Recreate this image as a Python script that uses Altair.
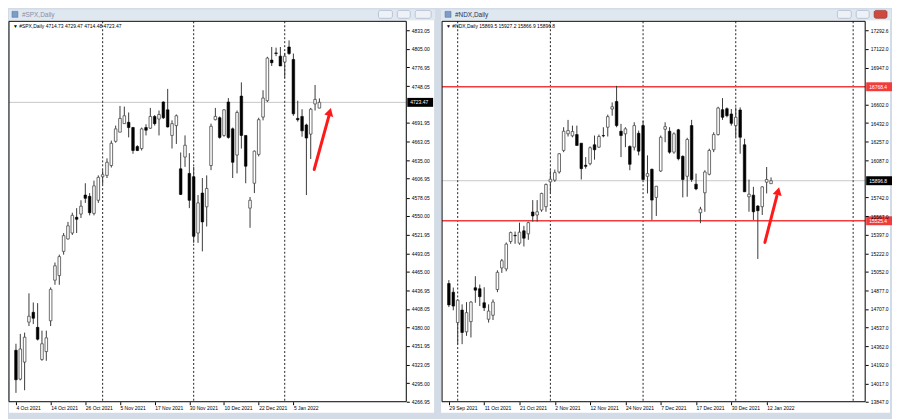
import json
import altair as alt
import pandas as pd

FONT = "Liberation Sans"
BG = "#d3dce6"

# ---------------- #SPX,Daily ----------------
spx_open = [4345, 4301, 4327, 4388, 4403, 4380, 4331, 4343, 4390, 4452,
            4459, 4496, 4515, 4524, 4548, 4553, 4582, 4580, 4554, 4574,
            4610, 4612, 4627, 4664, 4678, 4691, 4693, 4685, 4656, 4653,
            4685, 4684, 4702, 4698, 4724, 4712, 4673, 4688, 4622, 4640,
            4615, 4610, 4524, 4585, 4564, 4627, 4697, 4700, 4673, 4724,
            4683, 4643, 4733, 4673, 4562, 4600, 4644, 4701, 4726, 4788,
            4799, 4794, 4785, 4808, 4789, 4699, 4702, 4689, 4675, 4721,
            4714.73]
spx_high = [4355, 4370, 4372, 4432, 4418, 4417, 4375, 4375, 4441, 4479,
            4491, 4524, 4541, 4555, 4562, 4574, 4600, 4585, 4604, 4612,
            4620, 4638, 4665, 4688, 4718, 4717, 4708, 4686, 4658, 4685,
            4690, 4715, 4704, 4711, 4725, 4744, 4696, 4705, 4647, 4673,
            4646, 4625, 4582, 4608, 4612, 4691, 4715, 4702, 4713, 4730,
            4685, 4711, 4754, 4673, 4579, 4650, 4700, 4742, 4793, 4808,
            4807, 4808, 4799, 4818, 4798, 4726, 4713, 4691, 4715, 4750,
            4729.47]
spx_low = [4280, 4299, 4284, 4382, 4385, 4360, 4329, 4329, 4382, 4445,
           4445, 4491, 4514, 4521, 4524, 4547, 4570, 4551, 4551, 4570,
           4598, 4608, 4624, 4662, 4678, 4691, 4670, 4645, 4649, 4650,
           4673, 4683, 4688, 4673, 4698, 4685, 4653, 4660, 4582, 4625,
           4562, 4509, 4509, 4496, 4534, 4620, 4696, 4668, 4671, 4668,
           4608, 4615, 4653, 4600, 4532, 4585, 4641, 4696, 4724, 4779,
           4794, 4779, 4761, 4796, 4703, 4694, 4671, 4582, 4637, 4711,
           4714.48]
spx_close = [4300, 4347, 4365, 4397, 4394, 4362, 4355, 4364, 4438, 4474,
             4488, 4520, 4535, 4551, 4545, 4565, 4577, 4555, 4596, 4609,
             4613, 4632, 4661, 4683, 4699, 4703, 4685, 4650, 4650, 4683,
             4681, 4702, 4691, 4705, 4700, 4686, 4691, 4703, 4583, 4658,
             4574, 4519, 4570, 4541, 4592, 4687, 4702, 4670, 4712, 4670,
             4632, 4708, 4673, 4626, 4574, 4649, 4697, 4730, 4791, 4784,
             4798, 4779, 4794, 4798, 4706, 4697, 4680, 4669, 4713, 4728,
             4723.47]
spx_ticks = [4833.05, 4805.00, 4776.95, 4748.05, 4691.95, 4663.05, 4635.00,
             4606.95, 4578.05, 4550.00, 4521.95, 4493.05, 4465.00, 4436.95,
             4408.05, 4380.00, 4351.95, 4323.05, 4295.00, 4266.95]
spx_date_pos = [0, 8, 16, 24, 32, 40, 48, 56, 64]
spx_date_labels = ["4 Oct 2021", "14 Oct 2021", "26 Oct 2021", "5 Nov 2021",
                   "17 Nov 2021", "30 Nov 2021", "10 Dec 2021", "22 Dec 2021",
                   "5 Jan 2022"]
spx_separators = [20, 41, 62]
spx_last = 4723.47
spx_levels = []
spx_info = "\u25bc #SPX,Daily  4714.73 4729.47 4714.48 4723.47"
spx_arrow_x = [68.8, 72.2]
spx_arrow_y = [4621, 4703]
spx_head = [72.4, 4709]

# ---------------- #NDX,Daily ----------------
ndx_open = [14943, 14863, 14581, 14697, 14495, 14590, 14904, 14895, 14765, 14612,
            14649, 14888, 15088, 15079, 15333, 15390, 15318, 15432, 15404, 15607,
            15579, 15625, 15656, 15886, 15902, 15978, 16178, 16332, 16313, 16325,
            16245, 16040, 16055, 16230, 16208, 16316, 16393, 16562, 16632, 16356,
            16332, 16215, 16208, 16337, 16408, 15938, 16003, 15742, 15987, 16374,
            16356, 16162, 16369, 16123, 15938, 16408, 15865, 15600, 15785, 15957,
            16184, 16325, 16556, 16565, 16516, 16408, 16553, 16230, 15748, 15763,
            15662, 15656, 15883, 15869.5]
ndx_high = [14975, 14906, 14796, 14750, 14771, 14780, 15011, 14934, 14909, 14750,
            14796, 15066, 15171, 15324, 15425, 15425, 15508, 15478, 15517, 15717,
            15717, 15785, 15871, 15994, 16000, 16153, 16393, 16461, 16408, 16408,
            16245, 16116, 16215, 16316, 16325, 16393, 16510, 16623, 16777, 16424,
            16393, 16224, 16439, 16362, 16454, 16132, 16009, 15846, 16316, 16439,
            16393, 16346, 16378, 16132, 16295, 16461, 15963, 15655, 15994, 16194,
            16346, 16583, 16663, 16577, 16562, 16577, 16577, 16286, 15908, 15840,
            15671, 15846, 16024, 15927.2]
ndx_low = [14725, 14695, 14381, 14381, 14458, 14443, 14765, 14734, 14688, 14581,
           14605, 14863, 15042, 15057, 15312, 15312, 15303, 15287, 15349, 15517,
           15517, 15609, 15609, 15779, 15886, 15963, 16162, 16307, 16300, 16224,
           15908, 16009, 16040, 16092, 16203, 16300, 16307, 16500, 16393, 16116,
           16208, 15994, 16178, 16132, 15901, 15779, 15533, 15570, 15978, 16254,
           16147, 16147, 16086, 15742, 15748, 15886, 15809, 15503, 15609, 15947,
           16162, 16316, 16461, 16485, 16408, 16300, 16147, 15794, 15609, 15533,
           15171, 15579, 15779, 15866.9]
ndx_close = [14745, 14734, 14789, 14489, 14673, 14771, 14882, 14821, 14719, 14688,
             14771, 15047, 15155, 15309, 15416, 15386, 15420, 15364, 15508, 15570,
             15609, 15779, 15862, 15911, 15972, 16147, 16356, 16362, 16353, 16224,
             16009, 16030, 16203, 16184, 16307, 16313, 16491, 16583, 16408, 16316,
             16378, 16049, 16408, 16171, 15908, 15963, 15717, 15846, 16300, 16399,
             16162, 16332, 16101, 15908, 16279, 15908, 15821, 15634, 15978, 16178,
             16325, 16571, 16485, 16500, 16429, 16485, 16300, 15794, 15772, 15609,
             15619, 15840, 15908, 15896.8]
ndx_ticks = [17292.6, 17122.0, 16947.0, 16602.0, 16432.0, 16257.0, 16087.0,
             15742.0, 15567.0, 15397.0, 15222.0, 15052.0, 14877.0, 14707.0,
             14537.0, 14362.0, 14192.0, 14017.0, 13847.0]
ndx_date_pos = [0, 8, 16, 24, 32, 40, 48, 56, 64, 72]
ndx_date_labels = ["29 Sep 2021", "11 Oct 2021", "21 Oct 2021", "2 Nov 2021",
                   "12 Nov 2021", "24 Nov 2021", "7 Dec 2021", "17 Dec 2021",
                   "30 Dec 2021", "12 Jan 2022"]
ndx_separators = [2, 23, 44, 65, 91.6]
ndx_last = 15896.8
ndx_levels = [16768.4, 15525.4]
ndx_info = "\u25bc #NDX,Daily  15869.5 15927.2 15866.9 15896.8"
ndx_arrow_x = [71.6, 74.3]
ndx_arrow_y = [15324, 15754]
ndx_head = [74.6, 15800]


def panel(opens, highs, lows, closes, x_domain, y_domain, width, height,
          ticks, tick_fmt, date_pos, date_labels, separators, last_price,
          levels, arrow_x, arrow_y, head, head_angle, info, title, active,
          left_extra, right_extra):
    n = len(opens)
    df = pd.DataFrame({"i": list(range(n)), "o": opens, "h": highs,
                       "l": lows, "c": closes})
    xs = alt.Scale(domain=x_domain, nice=False, zero=False)
    ys = alt.Scale(domain=y_domain, nice=False, zero=False)
    label_expr = "%s[indexof(%s, datum.value)]" % (json.dumps(date_labels),
                                                   json.dumps(date_pos))
    xaxis = alt.Axis(values=date_pos, labelExpr=label_expr, grid=False,
                     domain=False, tickSize=3, tickColor="#000",
                     labelFontSize=5, labelFont=FONT, labelColor="#000",
                     labelAlign="left", labelBaseline="top", labelPadding=1,
                     labelOverlap=False, labelFlush=False, zindex=1, title=None)
    yaxis = alt.Axis(values=ticks, format=tick_fmt, orient="right", grid=False,
                     domain=False, tickSize=3, tickColor="#000",
                     labelFontSize=5, labelFont=FONT, labelColor="#000",
                     labelPadding=2, labelOverlap=False, labelFlush=False,
                     zindex=1, title=None)

    def X(f):
        return alt.X(f + ":Q", scale=xs, axis=xaxis, title=None)

    def Y(f):
        return alt.Y(f + ":Q", scale=ys, axis=yaxis, title=None)

    one = pd.DataFrame({"k": [0]})
    layers = []
    # window chrome
    layers.append(alt.Chart(one).mark_rect(fill=BG).encode(
        x=alt.value(-left_extra), x2=alt.value(width + right_extra),
        y=alt.value(height + 10), y2=alt.value(height + 16)))
    layers.append(alt.Chart(one).mark_rect(fill="#dfe7f0").encode(
        x=alt.value(-left_extra), x2=alt.value(width + right_extra),
        y=alt.value(-12), y2=alt.value(-1)))
    layers.append(alt.Chart(one).mark_rect(fill="white").encode(
        x=alt.value(-left_extra), x2=alt.value(width + right_extra - 1),
        y=alt.value(-1), y2=alt.value(height + 11)))
    # bid line
    layers.append(alt.Chart(pd.DataFrame({"p": [last_price]})).mark_rule(
        color="#c8c8c8", strokeWidth=1).encode(y=Y("p")))
    # period separators
    layers.append(alt.Chart(pd.DataFrame({"s": separators})).mark_rule(
        color="#222", strokeDash=[2, 2], strokeWidth=1).encode(x=X("s")))
    # horizontal levels
    if levels:
        layers.append(alt.Chart(pd.DataFrame({"lv": levels})).mark_rule(
            color="#f03c3c", strokeWidth=1.6).encode(y=Y("lv")))
    # candles
    layers.append(alt.Chart(df).mark_rule(color="#3a3a3a", strokeWidth=1,
                                          clip=True).encode(
        x=X("i"), y=Y("l"), y2=alt.Y2("h:Q")))
    layers.append(alt.Chart(df).transform_filter("datum.c >= datum.o").mark_bar(
        width=2.6, fill="white", stroke="#4a4a4a", strokeWidth=0.8,
        clip=True).encode(x=X("i"), y=Y("o"), y2=alt.Y2("c:Q")))
    layers.append(alt.Chart(df).transform_filter("datum.c < datum.o").mark_bar(
        width=2.6, fill="#000", stroke="#000", strokeWidth=0.6,
        clip=True).encode(x=X("i"), y=Y("o"), y2=alt.Y2("c:Q")))
    # frame
    layers.append(alt.Chart(one).mark_rect(fillOpacity=0, stroke="#000",
                                           strokeWidth=1).encode(
        x=alt.value(0), x2=alt.value(width), y=alt.value(0),
        y2=alt.value(height)))
    # info text
    layers.append(alt.Chart(one).mark_text(align="left", baseline="middle",
                                           fontSize=5, font=FONT,
                                           color="#000").encode(
        x=alt.value(4), y=alt.value(5), text=alt.value(info)))
    # arrow
    adf = pd.DataFrame({"x": [arrow_x[0]], "y": [arrow_y[0]],
                        "x2": [arrow_x[1]], "y2": [arrow_y[1]],
                        "hx": [head[0]], "hy": [head[1]]})
    layers.append(alt.Chart(adf).mark_rule(color="#ff1a1a", strokeWidth=3,
                                           strokeCap="round").encode(
        x=X("x"), y=Y("y"), x2=alt.X2("x2:Q"), y2=alt.Y2("y2:Q")))
    layers.append(alt.Chart(adf).mark_point(shape="triangle-up", filled=True,
                                            color="#ff1a1a", size=85,
                                            angle=head_angle,
                                            opacity=1).encode(
        x=X("hx"), y=Y("hy")))
    # price boxes
    fmt = "{:.2f}" if tick_fmt == ".2f" else "{:.1f}"
    bp = [last_price] + levels
    bdf = pd.DataFrame({"p": bp, "txt": [fmt.format(v) for v in bp],
                        "col": ["#000"] + ["#f03c3c"] * len(levels)})
    layers.append(alt.Chart(bdf).mark_rect(yOffset=-4.5, y2Offset=4.5).encode(
        x=alt.value(width + 1), x2=alt.value(width + 27), y=Y("p"),
        y2=alt.Y2("p:Q"), color=alt.Color("col:N", scale=None)))
    layers.append(alt.Chart(bdf).mark_text(align="left", baseline="middle",
                                           fontSize=5, font=FONT,
                                           color="white").encode(
        x=alt.value(width + 4), y=Y("p"), text="txt:N"))
    # title bar
    layers.append(alt.Chart(one).mark_rect(fill="#7d9cc6", stroke="#4f6f9c",
                                           strokeWidth=0.5).encode(
        x=alt.value(3), x2=alt.value(9), y=alt.value(-10), y2=alt.value(-4)))
    layers.append(alt.Chart(one).mark_text(
        align="left", baseline="middle", fontSize=6.5, font=FONT,
        color="#1d3557" if active else "#8193aa").encode(
        x=alt.value(13), y=alt.value(-6.5), text=alt.value(title)))
    btns = [(width - 28, width - 14), (width - 9, width + 4),
            (width + 9, width + right_extra - 4)]
    for k, (a, b) in enumerate(btns):
        close_btn = (k == 2 and active)
        layers.append(alt.Chart(one).mark_rect(
            fill="#cf4a3e" if close_btn else "#eef2f7",
            stroke="#8e2d25" if close_btn else "#9aabc0",
            strokeWidth=0.6, cornerRadius=2).encode(
            x=alt.value(a), x2=alt.value(b), y=alt.value(-11),
            y2=alt.value(-3)))
    return alt.layer(*layers).properties(width=width, height=height)


left = panel(spx_open, spx_high, spx_low, spx_close, [-0.46, 88.9],
             [4266.5, 4847.2], 400, 383, spx_ticks, ".2f", spx_date_pos,
             spx_date_labels, spx_separators, spx_last, spx_levels,
             spx_arrow_x, spx_arrow_y, spx_head, 16, spx_info, "#SPX,Daily",
             False, 0, 29)
right = panel(ndx_open, ndx_high, ndx_low, ndx_close, [-0.42, 93.2],
              [13847.0, 17375.5], 426, 383, ndx_ticks, ".1f", ndx_date_pos,
              ndx_date_labels, ndx_separators, ndx_last, ndx_levels,
              ndx_arrow_x, ndx_arrow_y, ndx_head, 14, ndx_info, "#NDX,Daily",
              True, 1, 26)

chart = alt.hconcat(left, right, spacing=6).properties(
    padding=0, background=BG).configure_view(strokeWidth=0)

chart.save("out.html", embed_options={"renderer": "svg", "actions": False})
